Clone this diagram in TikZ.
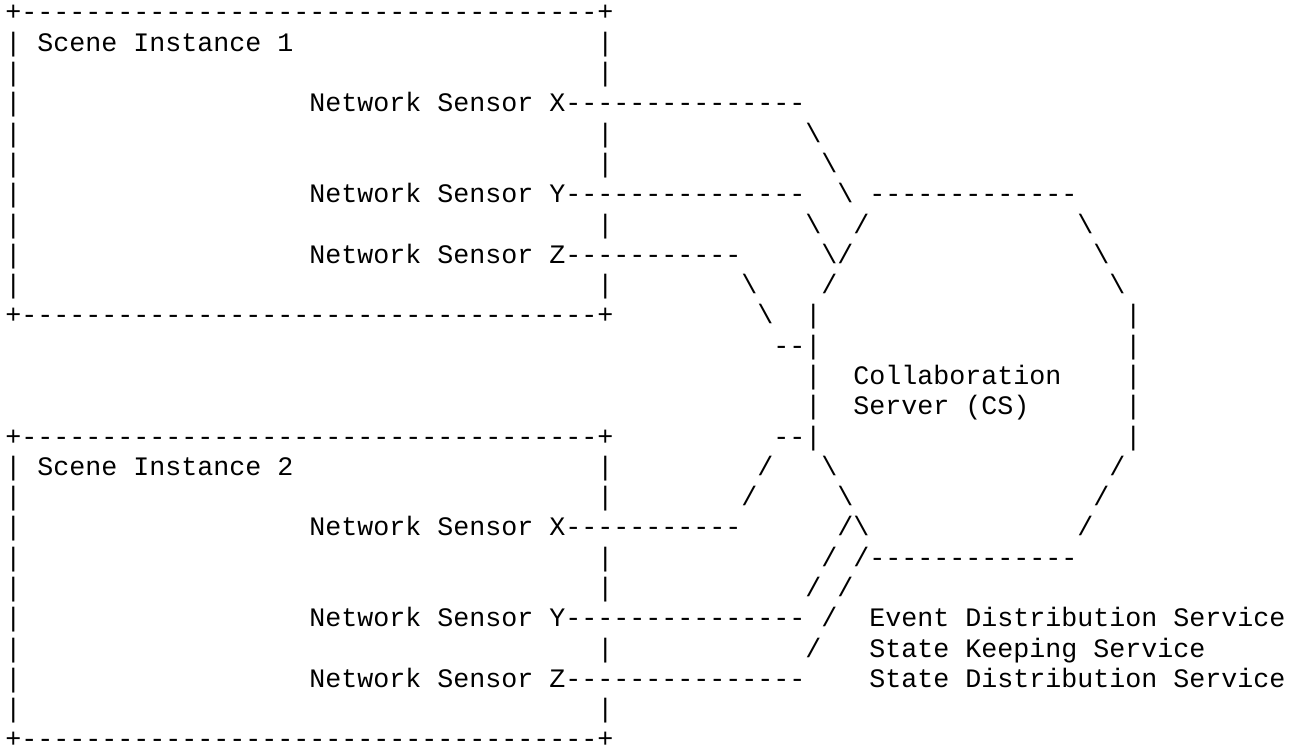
\documentclass[tikz,border=0pt]{standalone}
\usepackage{fontspec}
\setmonofont{Liberation Mono}
% ten hyphens, used to build the dash runs
\newcommand\dten{----------}
\newcommand\bs{\textbackslash}
\newcommand\boxedge{+\dten\dten\dten------+}
\tikzset{asc/.style={anchor=base west, inner sep=0pt, outer sep=0pt,
  font=\ttfamily\fontsize{26.67pt}{30pt}\selectfont, text=black}}
% \cell{name}{column}{row}{characters}
\newcommand\cell[4]{\node[asc] (#1) at (#2,#3) {#4};}
\begin{document}
\begin{tikzpicture}[x=16pt,y=-30.29pt]
\useasboundingbox (0pt,0pt) rectangle (1300pt,-749pt);
\begin{scope}[shift={(5.3pt,-21pt)}]
% ---- Scene Instance 1 ----
\cell{aTop}{0}{0}{\boxedge}
\cell{aL1}{0}{1}{|}\cell{aTitle}{2}{1}{Scene Instance 1}\cell{aR1}{37}{1}{|}
\cell{aL2}{0}{2}{|}\cell{aR2}{37}{2}{|}
\cell{aL3}{0}{3}{|}\cell{aX}{19}{3}{Network Sensor X\dten-----}
\cell{aL4}{0}{4}{|}\cell{aR4}{37}{4}{|}\cell{k4a}{50}{4}{\bs}
\cell{aL5}{0}{5}{|}\cell{aR5}{37}{5}{|}\cell{k5a}{51}{5}{\bs}
\cell{aL6}{0}{6}{|}\cell{aY}{19}{6}{Network Sensor Y\dten-----}\cell{k6a}{52}{6}{\bs}\cell{csTop}{54}{6}{\dten---}
\cell{aL7}{0}{7}{|}\cell{aR7}{37}{7}{|}\cell{k7a}{50}{7}{\bs}\cell{k7b}{53}{7}{/}\cell{cs7}{67}{7}{\bs}
\cell{aL8}{0}{8}{|}\cell{aZ}{19}{8}{Network Sensor Z\dten-}\cell{k8a}{51}{8}{\bs/}\cell{cs8}{68}{8}{\bs}
\cell{aL9}{0}{9}{|}\cell{aR9}{37}{9}{|}\cell{k9a}{46}{9}{\bs}\cell{k9b}{51}{9}{/}\cell{cs9}{69}{9}{\bs}
\cell{aBot}{0}{10}{\boxedge}\cell{k10a}{47}{10}{\bs}\cell{csL10}{50}{10}{|}\cell{csR10}{70}{10}{|}
% ---- Collaboration Server ----
\cell{csL11}{48}{11}{--|}\cell{csR11}{70}{11}{|}
\cell{csL12}{50}{12}{|}\cell{csName}{53}{12}{Collaboration}\cell{csR12}{70}{12}{|}
\cell{csL13}{50}{13}{|}\cell{csName2}{53}{13}{Server (CS)}\cell{csR13}{70}{13}{|}
% ---- Scene Instance 2 ----
\cell{bTop}{0}{14}{\boxedge}\cell{csL14}{48}{14}{--|}\cell{csR14}{70}{14}{|}
\cell{bL15}{0}{15}{|}\cell{bTitle}{2}{15}{Scene Instance 2}\cell{bR15}{37}{15}{|}\cell{k15a}{47}{15}{/}\cell{k15b}{51}{15}{\bs}\cell{cs15}{69}{15}{/}
\cell{bL16}{0}{16}{|}\cell{bR16}{37}{16}{|}\cell{k16a}{46}{16}{/}\cell{k16b}{52}{16}{\bs}\cell{cs16}{68}{16}{/}
\cell{bL17}{0}{17}{|}\cell{bX}{19}{17}{Network Sensor X\dten-}\cell{k17a}{52}{17}{/\bs}\cell{cs17}{67}{17}{/}
\cell{bL18}{0}{18}{|}\cell{bR18}{37}{18}{|}\cell{k18a}{51}{18}{/}\cell{csBot}{53}{18}{/\dten---}
\cell{bL19}{0}{19}{|}\cell{bR19}{37}{19}{|}\cell{k19a}{50}{19}{/}\cell{k19b}{52}{19}{/}
\cell{bL20}{0}{20}{|}\cell{bY}{19}{20}{Network Sensor Y\dten-----}\cell{k20a}{51}{20}{/}\cell{svc1}{54}{20}{Event Distribution Service}
\cell{bL21}{0}{21}{|}\cell{bR21}{37}{21}{|}\cell{k21a}{50}{21}{/}\cell{svc2}{54}{21}{State Keeping Service}
\cell{bL22}{0}{22}{|}\cell{bZ}{19}{22}{Network Sensor Z\dten-----}\cell{svc3}{54}{22}{State Distribution Service}
\cell{bL23}{0}{23}{|}\cell{bR23}{37}{23}{|}
\cell{bBot}{0}{24}{\boxedge}
\end{scope}
\end{tikzpicture}
\end{document}
